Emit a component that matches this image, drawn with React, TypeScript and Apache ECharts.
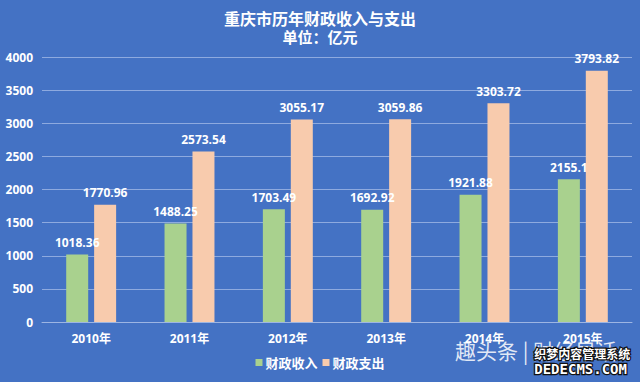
import React, { useEffect, useRef } from "react";
import * as echarts from "echarts";

const categories = ["2010年", "2011年", "2012年", "2013年", "2014年", "2015年"];
const revenue = [1018.36, 1488.25, 1703.49, 1692.92, 1921.88, 2155.1];
const expenditure = [1770.96, 2573.54, 3055.17, 3059.86, 3303.72, 3793.82];
const seriesNames = ["财政收入", "财政支出"];
const titleText = "重庆市历年财政收入与支出";
const subtitleText = "单位：亿元";

const NUM_FONT = "'Open Sans', 'Noto Sans CJK SC', sans-serif";
const CJK_FONT = "'Noto Sans CJK SC', sans-serif";

export default function App() {
  const ref = useRef<HTMLDivElement>(null);
  useEffect(() => {
    if (!ref.current) return;
    const chart = echarts.init(ref.current, null, { renderer: "svg" });
    const labelStyle = {
      show: true,
      position: "top" as const,
      distance: 6,
      color: "#ffffff",
      fontSize: 12,
      fontWeight: "bold" as const,
      fontFamily: NUM_FONT,
    };
    chart.setOption({
      animation: false,
      backgroundColor: "#4472C4",
      title: {
        text: titleText,
        subtext: subtitleText,
        left: "center",
        top: 5,
        itemGap: 3,
        textStyle: { color: "#ffffff", fontSize: 16, fontWeight: "bold", fontFamily: CJK_FONT },
        subtextStyle: { color: "#ffffff", fontSize: 15, fontWeight: "bold", fontFamily: CJK_FONT },
      },
      legend: {
        data: seriesNames,
        bottom: 8,
        left: "center",
        itemWidth: 7,
        itemHeight: 7,
        itemGap: 5,
        icon: "rect",
        textStyle: { color: "#ffffff", fontSize: 13, fontWeight: "bold", fontFamily: CJK_FONT, padding: [0, 0, 0, -2] },
      },
      grid: { left: 42, right: 8, top: 57, bottom: 60, containLabel: false },
      xAxis: {
        type: "category",
        data: categories,
        axisLine: { show: true, lineStyle: { color: "#9db5e3", width: 1 } },
        axisTick: { show: false },
        axisLabel: { color: "#ffffff", fontSize: 12, fontWeight: "bold", fontFamily: NUM_FONT, margin: 10 },
      },
      yAxis: {
        type: "value",
        min: 0,
        max: 4000,
        interval: 500,
        axisLine: { show: false },
        axisTick: { show: false },
        axisLabel: {
          color: "#ffffff",
          fontSize: 12,
          fontWeight: "bold",
          fontFamily: NUM_FONT,
          margin: 9,
          formatter: (v: number) => String(v),
        },
        splitLine: { lineStyle: { color: "#8eaadf", width: 1 } },
      },
      series: [
        {
          name: seriesNames[0],
          type: "bar",
          data: revenue,
          barWidth: 22,
          barGap: "27%",
          itemStyle: { color: "#A9D18E" },
          label: labelStyle,
        },
        {
          name: seriesNames[1],
          type: "bar",
          data: expenditure,
          barWidth: 22,
          itemStyle: { color: "#F8CBAD" },
          label: labelStyle,
        },
      ],
      graphic: [
        {
          type: "text",
          left: 455,
          top: 339,
          silent: true,
          style: {
            text: "趣头条 | 财经早话",
            fill: "rgba(255,255,255,0.85)",
            fontSize: 21,
            fontFamily: CJK_FONT,
          },
        },
        {
          type: "text",
          left: 533,
          top: 346,
          silent: true,
          style: {
            text: "织梦内容管理系统",
            fill: "#ffffff",
            stroke: "#111111",
            lineWidth: 2.5,
            fontSize: 12,
            fontWeight: "bold",
            fontFamily: CJK_FONT,
          },
        },
        {
          type: "text",
          left: 533,
          top: 361,
          silent: true,
          style: {
            text: "DEDECMS.COM",
            fill: "#ffffff",
            stroke: "#111111",
            lineWidth: 2.5,
            fontSize: 14,
            fontWeight: "bold",
            fontFamily: "'DejaVu Sans Mono', monospace",
          },
        },
      ],
    });
    return () => chart.dispose();
  }, []);
  return <div ref={ref} style={{ width: 640, height: 382, position: "fixed", left: 0, top: 0 }} />;
}
